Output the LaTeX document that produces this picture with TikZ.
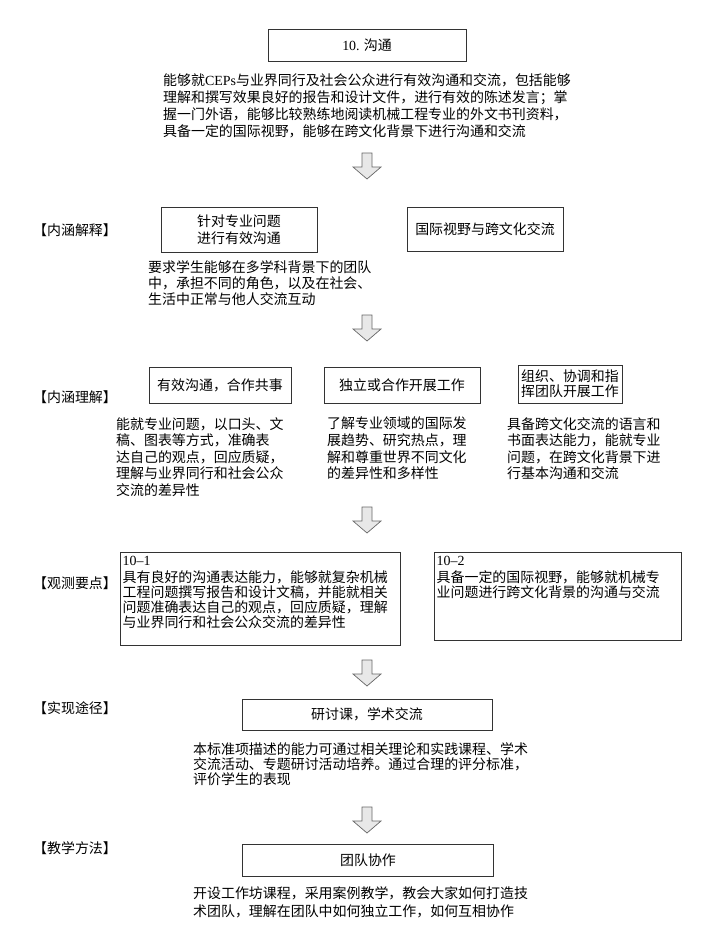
\documentclass[tikz,border=0pt]{standalone}
\usepackage{fontspec}
\setmainfont{Liberation Serif}
\newfontfamily\cjk{Noto Sans CJK SC}
\usetikzlibrary{positioning}

\begin{document}
\begin{tikzpicture}[x=1bp,y=-1bp,
  box/.style={draw=black!80, line width=0.7pt, align=center, inner sep=0pt,
    font=\cjk\fontsize{14}{17}\selectfont},
  para/.style={anchor=north west, align=left, inner sep=0pt,
    font=\cjk\fontsize{14}{#1}\selectfont},
  para/.default=17,
  tag/.style={anchor=west, inner sep=0pt, font=\cjk\fontsize{14}{16}\selectfont},
  boxline/.style={draw=black!80, line width=0.7pt},
  downarrow/.pic={\draw[draw=black!60, fill=black!9, line width=0.7pt]
    (-5,0) -- (-5,14) -- (-14,14) -- (0,26) -- (14,14) -- (5,14) -- (5,0) -- cycle;}
]
\useasboundingbox (0,0) rectangle (709,929);

% title and definition
\node[box, minimum width=198bp, minimum height=32bp] (goal) at (367,45) {\textrm{10.} 沟通};
\node[para=17.3] (goaltxt) at (163,73) {能够就\textrm{CEPs}与业界同行及社会公众进行有效沟通和交流，包括能够\\
理解和撰写效果良好的报告和设计文件，进行有效的陈述发言；掌\\
握一门外语，能够比较熟练地阅读机械工程专业的外文书刊资料，\\
具备一定的国际视野，能够在跨文化背景下进行沟通和交流};
\pic at (367,153) {downarrow};

% explanation
\node[tag] (lab1) at (33,230) {【内涵解释】};
\node[box, minimum width=156bp, minimum height=45bp] (meet1) at (239,229.5) {针对专业问题\\进行有效沟通};
\node[box, minimum width=156bp, minimum height=44bp] (meet2) at (485,229) {国际视野与跨文化交流};
\node[para=16.5] (meettxt) at (148,260) {要求学生能够在多学科背景下的团队\\
中，承担不同的角色，以及在社会、\\
生活中正常与他人交流互动};
\pic at (367,315) {downarrow};

% understanding
\node[tag] (lab2) at (33,397) {【内涵理解】};
\node[box, minimum width=142bp, minimum height=36bp] (und1) at (220,385) {有效沟通，合作共事};
\node[box, minimum width=156bp, minimum height=36bp] (und2) at (402,385) {独立或合作开展工作};
\node[box, minimum width=104bp, minimum height=38bp, font=\cjk\fontsize{14}{15.5}\selectfont] (und3) at (570,384) {组织、协调和指\\挥团队开展工作};
\node[para=16.7] (undtxt1) at (116,417) {能就专业问题，以口头、文\\
稿、图表等方式，准确表\\
达自己的观点，回应质疑，\\
理解与业界同行和社会公众\\
交流的差异性};
\node[para=16.7] (undtxt2) at (327,417) {了解专业领域的国际发\\
展趋势、研究热点，理\\
解和尊重世界不同文化\\
的差异性和多样性};
\node[para=16.7] (undtxt3) at (507,417) {具备跨文化交流的语言和\\
书面表达能力，能就专业\\
问题，在跨文化背景下进\\
行基本沟通和交流};
\pic at (367,507) {downarrow};

% observation points
\node[tag] (lab3) at (33,583) {【观测要点】};
\draw[boxline] (120.5,552) rectangle (400,645);
\node[para=15] (obs1) at (122.5,556) {\textrm{10--1}\\[2bp]
具有良好的沟通表达能力，能够就复杂机械\\
工程问题撰写报告和设计文稿，并能就相关\\
问题准确表达自己的观点，回应质疑，理解\\
与业界同行和社会公众交流的差异性};
\draw[boxline] (434,552) rectangle (681,640);
\node[para=15] (obs2) at (436.5,556) {\textrm{10--2}\\[2bp]
具备一定的国际视野，能够就机械专\\
业问题进行跨文化背景的沟通与交流};
\pic at (367,660) {downarrow};

% ways
\node[tag] (lab4) at (33,708) {【实现途径】};
\node[box, minimum width=250bp, minimum height=31bp] (way) at (367,714.5) {研讨课，学术交流};
\node[para=15.5] (waytxt) at (193,742) {本标准项描述的能力可通过相关理论和实践课程、学术\\
交流活动、专题研讨活动培养。通过合理的评分标准，\\
评价学生的表现};
\pic at (367,807) {downarrow};

% teaching
\node[tag] (lab5) at (33,848) {【教学方法】};
\node[box, minimum width=251bp, minimum height=32bp] (teach) at (368,860) {团队协作};
\node[para=19] (teachtxt) at (193,886) {开设工作坊课程，采用案例教学，教会大家如何打造技\\
术团队，理解在团队中如何独立工作，如何互相协作};
\end{tikzpicture}
\end{document}
